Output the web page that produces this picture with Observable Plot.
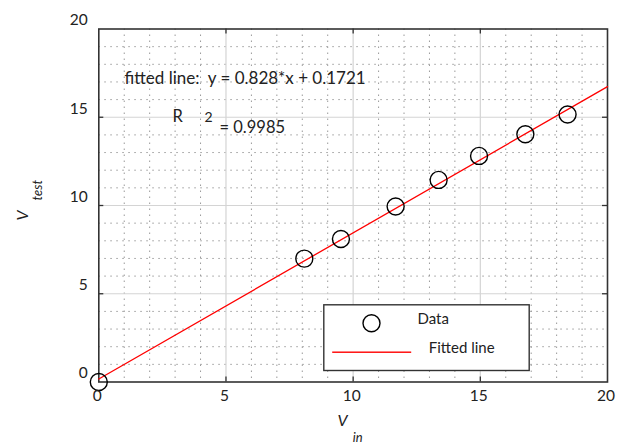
<!DOCTYPE html>
<html>
<head>
<meta charset="utf-8">
<script src="https://cdn.jsdelivr.net/npm/d3@7"></script>
<script src="https://cdn.jsdelivr.net/npm/@observablehq/plot@0.6"></script>
<style>
  html, body { margin: 0; padding: 0; background: #fff; }
  #chart svg text { white-space: pre; }
</style>
</head>
<body>
<div id="chart"></div>
<script>
// ---- data ----
const vIn   = [0, 8.08, 9.52, 11.67, 13.36, 14.95, 16.77, 18.43];
const vTest = [0, 6.99, 8.10, 9.94, 11.45, 12.81, 14.04, 15.16];
const fitSlope = 0.828;
const fitIntercept = 0.1721;
const fitX = [0, 20];
const fitY = [0.1721, 16.7321];
const xTicks = [0, 5, 10, 15, 20];
const yTicks = [0, 5, 10, 15, 20];
const innerTicks = [5, 10, 15];
const minorTicks = [1,2,3,4,6,7,8,9,11,12,13,14,16,17,18,19];
const annotationFit = "fitted line:  y = 0.828*x + 0.1721";
const annotationR = "R";
const annotationR2 = "2";
const annotationRval = "= 0.9985";
const legendLabels = ["Data", "Fitted line"];

const points = vIn.map((x, i) => ({x, y: vTest[i]}));
const fitLine = fitX.map((x, i) => ({x, y: fitY[i]}));

// ---- layout ----
const W = 619, H = 445;
const mL = 98.3, mR = 12, mT = 28.5, mB = 63.5;
const plotW = W - mL - mR, plotH = H - mT - mB;
const font = "Lato, 'Open Sans', sans-serif";
const txt = "#222";

const plot = Plot.plot({
  width: W, height: H,
  marginLeft: mL, marginRight: mR, marginTop: mT, marginBottom: mB,
  x: {domain: [0, 20], axis: null},
  y: {domain: [0, 20], axis: null},
  style: {fontFamily: font, background: "white"},
  marks: [
    // minor dotted grid
    Plot.ruleX(minorTicks, {stroke: "#9a9a9a", strokeWidth: 1, strokeDasharray: "1.5,4.5"}),
    Plot.ruleY(minorTicks, {stroke: "#9a9a9a", strokeWidth: 1, strokeDasharray: "1.5,4.5"}),
    // major solid grid
    Plot.ruleX(innerTicks, {stroke: "#d4d4d4", strokeWidth: 1.2}),
    Plot.ruleY(innerTicks, {stroke: "#d4d4d4", strokeWidth: 1.2}),
    // inward ticks
    Plot.ruleX(innerTicks, {stroke: "#333", strokeWidth: 1.3, insetTop: plotH - 5}),
    Plot.ruleX(innerTicks, {stroke: "#333", strokeWidth: 1.3, insetBottom: plotH - 5}),
    Plot.ruleY(innerTicks, {stroke: "#333", strokeWidth: 1.3, insetRight: plotW - 5}),
    Plot.ruleY(innerTicks, {stroke: "#333", strokeWidth: 1.3, insetLeft: plotW - 5}),
    // frame
    Plot.frame({stroke: "#333", strokeWidth: 1.6}),
    // fitted line
    Plot.line(fitLine, {x: "x", y: "y", stroke: "#ff0000", strokeWidth: 1.3}),
    // data
    Plot.dot(points, {x: "x", y: "y", r: 8.5, stroke: "#000", strokeWidth: 1.4, fill: "none"}),
    // tick labels
    Plot.text(yTicks, {x: () => 0, y: d => d, text: d => String(d), textAnchor: "end", dx: -11, dy: -8.5, fontSize: 15.5, fill: txt}),
    Plot.text(xTicks, {x: d => d, y: () => 0, text: d => String(d), dy: 14, dx: -1.5, fontSize: 15.5, fill: txt}),
    // axis labels
    Plot.text(["V"], {frameAnchor: "bottom", dx: -10.5, dy: 43.5, fontSize: 16, fontStyle: "italic", fill: txt}),
    Plot.text(["in"], {frameAnchor: "bottom", dx: 4.5, dy: 59.5, fontSize: 13, fontStyle: "italic", fill: txt}),
    Plot.text(["V"], {frameAnchor: "left", dx: -76, dy: 15, rotate: -90, fontSize: 16, fontStyle: "italic", fill: txt}),
    Plot.text(["test"], {frameAnchor: "left", dx: -61, dy: -5, rotate: -90, fontSize: 13, fontStyle: "italic", fill: txt}),
    // annotations
    Plot.text([annotationFit], {frameAnchor: "top-left", textAnchor: "start", dx: 124 - mL, dy: 71.7 - mT, fontSize: 17, fill: txt}),
    Plot.text([annotationR], {frameAnchor: "top-left", textAnchor: "start", dx: 172 - mL, dy: 110 - mT, fontSize: 16.5, fill: txt}),
    Plot.text([annotationR2], {frameAnchor: "top-left", textAnchor: "start", dx: 204 - mL, dy: 111.5 - mT, fontSize: 14, fill: txt}),
    Plot.text([annotationRval], {frameAnchor: "top-left", textAnchor: "start", dx: 219 - mL, dy: 121 - mT, fontSize: 16.5, fill: txt}),
    // legend
    Plot.frame({fill: "white", stroke: "#333", strokeWidth: 1.4,
      insetLeft: 323.3 - mL, insetRight: W - mR - 528.7, insetTop: 304.3 - mT, insetBottom: H - mB - 370}),
    Plot.dot([0], {frameAnchor: "top-left", dx: 371 - mL, dy: 322.7 - mT, r: 8.5, stroke: "#000", strokeWidth: 1.4, fill: "none"}),
    Plot.frame({fill: "#ff0000", stroke: null,
      insetLeft: 331.7 - mL, insetRight: W - mR - 410.7, insetTop: 351 - mT, insetBottom: H - mB - 352.4}),
    Plot.text([legendLabels[0]], {frameAnchor: "top-left", textAnchor: "start", dx: 417 - mL, dy: 313.3 - mT, fontSize: 15, fill: txt}),
    Plot.text([legendLabels[1]], {frameAnchor: "top-left", textAnchor: "start", dx: 428.3 - mL, dy: 342.3 - mT, fontSize: 15, fill: txt})
  ]
});
document.getElementById("chart").appendChild(plot);
</script>
</body>
</html>
